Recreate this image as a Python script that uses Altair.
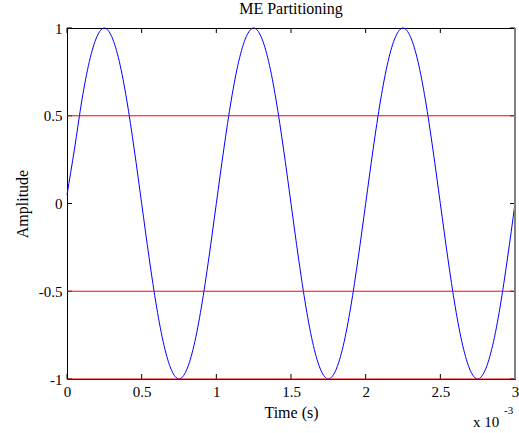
import altair as alt
import pandas as pd

# Time in milliseconds (axis shows x 10^-3 s)
time_ms = [0.00, 0.05, 0.10, 0.15, 0.20, 0.25, 0.30, 0.35, 0.40, 0.45,
           0.50, 0.55, 0.60, 0.65, 0.70, 0.75, 0.80, 0.85, 0.90, 0.95,
           1.00, 1.05, 1.10, 1.15, 1.20, 1.25, 1.30, 1.35, 1.40, 1.45,
           1.50, 1.55, 1.60, 1.65, 1.70, 1.75, 1.80, 1.85, 1.90, 1.95,
           2.00, 2.05, 2.10, 2.15, 2.20, 2.25, 2.30, 2.35, 2.40, 2.45,
           2.50, 2.55, 2.60, 2.65, 2.70, 2.75, 2.80, 2.85, 2.90, 2.95,
           3.00]
amplitude = [0.05, 0.31, 0.59, 0.81, 0.95, 1.00, 0.95, 0.81, 0.59, 0.31,
             0.00, -0.31, -0.59, -0.81, -0.95, -1.00, -0.95, -0.81, -0.59, -0.31,
             0.00, 0.31, 0.59, 0.81, 0.95, 1.00, 0.95, 0.81, 0.59, 0.31,
             0.00, -0.31, -0.59, -0.81, -0.95, -1.00, -0.95, -0.81, -0.59, -0.31,
             0.00, 0.31, 0.59, 0.81, 0.95, 1.00, 0.95, 0.81, 0.59, 0.31,
             0.00, -0.31, -0.59, -0.81, -0.95, -1.00, -0.95, -0.81, -0.59, -0.31,
             0.00]
levels = [0.5, -0.5, -1.0]
x_ticks = [0, 0.5, 1, 1.5, 2, 2.5, 3]
y_ticks = [-1, -0.5, 0, 0.5, 1]
scale_note = ["x 10"]
scale_exp = ["-3"]

W, H = 448, 351
FONT = "Liberation Serif"

sig = pd.DataFrame({"t": time_ms, "a": amplitude})
lev = pd.DataFrame({"y": levels})
xt = pd.DataFrame({"x": x_ticks})
yt = pd.DataFrame({"y": y_ticks})

xs = alt.Scale(domain=[0, 3], nice=False, zero=False)
ys = alt.Scale(domain=[-1, 1], nice=False, zero=False)

xaxis = alt.Axis(values=x_ticks, ticks=False, domain=False, labelFont=FONT,
                 labelFontSize=15, labelColor="black", labelPadding=5,
                 title="Time (s)", titleFont=FONT, titleFontSize=16,
                 titleFontWeight="normal", titleColor="black", titlePadding=5,
                 grid=False, labelFlush=False,
                 labelExpr="'' + datum.value")
yaxis = alt.Axis(values=y_ticks, ticks=False, domain=False, labelFont=FONT,
                 labelFontSize=15, labelColor="black", labelPadding=5,
                 title="Amplitude", titleFont=FONT, titleFontSize=16,
                 titleFontWeight="normal", titleColor="black", titlePadding=8,
                 grid=False, labelFlush=False,
                 labelExpr="'' + datum.value")

line = alt.Chart(sig).mark_line(color="#0000ff", strokeWidth=1,
                                interpolate="monotone").encode(
    x=alt.X("t:Q", scale=xs, axis=xaxis),
    y=alt.Y("a:Q", scale=ys, axis=yaxis),
)

hlines = alt.Chart(lev).mark_rule(color="#ff0000", strokeWidth=1.2).encode(
    y=alt.Y("y:Q", scale=ys),
    x=alt.value(0), x2=alt.value(W),
)

tick_bottom = alt.Chart(xt).mark_rule(color="black").encode(
    x=alt.X("x:Q", scale=xs), y=alt.value(H), y2=alt.value(H - 5))
tick_top = alt.Chart(xt).mark_rule(color="black").encode(
    x=alt.X("x:Q", scale=xs), y=alt.value(0), y2=alt.value(5))
tick_left = alt.Chart(yt).mark_rule(color="black").encode(
    y=alt.Y("y:Q", scale=ys), x=alt.value(0), x2=alt.value(5))
tick_right = alt.Chart(yt).mark_rule(color="black").encode(
    y=alt.Y("y:Q", scale=ys), x=alt.value(W - 5), x2=alt.value(W))

right_edge = alt.Chart(pd.DataFrame({"k": [0]})).mark_rule(
    color="#808080", strokeWidth=2).encode(
    x=alt.value(W), y=alt.value(0), y2=alt.value(H))

mult = alt.Chart(pd.DataFrame({"s": scale_note})).mark_text(
    font=FONT, fontSize=15, align="left", baseline="alphabetic",
    color="black").encode(
    text="s:N", x=alt.value(406), y=alt.value(399))
exp_ = alt.Chart(pd.DataFrame({"s": scale_exp})).mark_text(
    font=FONT, fontSize=11, align="left", baseline="alphabetic",
    color="black").encode(
    text="s:N", x=alt.value(437), y=alt.value(386))

chart = alt.layer(
    tick_bottom, tick_top, tick_left, tick_right,
    line, hlines, right_edge, mult, exp_
).properties(
    width=W, height=H,
    title=alt.Title("ME Partitioning", font=FONT, fontSize=16,
                    fontWeight="normal", color="black", offset=4),
    padding={"left": 67, "top": 28, "right": 4, "bottom": 54},
    autosize=alt.AutoSizeParams(type="none"),
    background="white",
).configure_view(stroke="black", strokeWidth=1)

chart.save("out.html", embed_options={"renderer": "svg", "actions": False})
